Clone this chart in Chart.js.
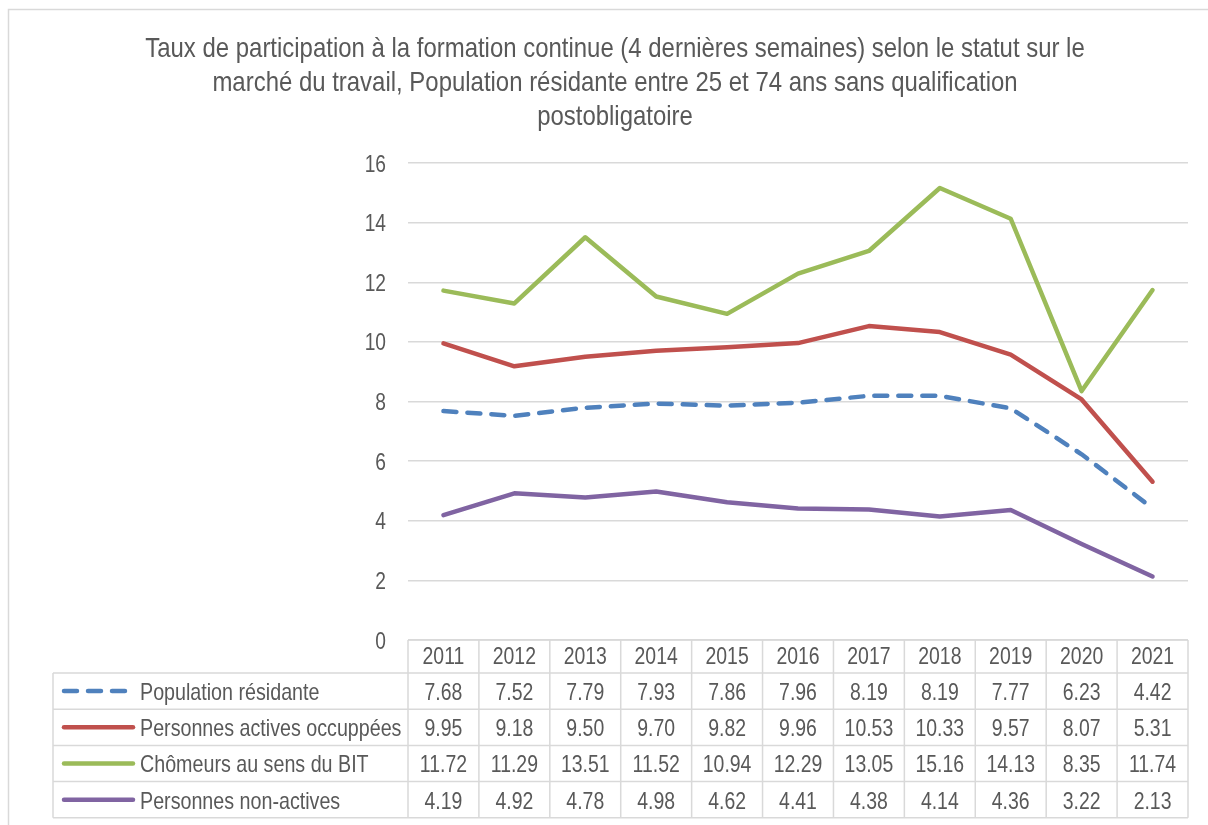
<!DOCTYPE html>
<html><head><meta charset="utf-8">
<script src="https://cdn.jsdelivr.net/npm/chart.js@4.4.1/dist/chart.umd.min.js"></script>
<style>html,body{margin:0;padding:0;background:#fff;}#wrap{width:1208px;height:825px;position:relative;}</style>
</head><body><div id="wrap"><canvas id="c" width="1208" height="825"></canvas></div>
<script>
const titleLines = ["Taux de participation à la formation continue (4 dernières semaines) selon le statut sur le","marché du travail, Population résidante entre 25 et 74 ans sans qualification","postobligatoire"];
const years = ["2011","2012","2013","2014","2015","2016","2017","2018","2019","2020","2021"];
const seriesNames = ["Population résidante","Personnes actives occuppées","Chômeurs au sens du BIT","Personnes non-actives"];
const population = [7.68,7.52,7.79,7.93,7.86,7.96,8.19,8.19,7.77,6.23,4.42];
const actives = [9.95,9.18,9.50,9.70,9.82,9.96,10.53,10.33,9.57,8.07,5.31];
const chomeurs = [11.72,11.29,13.51,11.52,10.94,12.29,13.05,15.16,14.13,8.35,11.74];
const nonActives = [4.19,4.92,4.78,4.98,4.62,4.41,4.38,4.14,4.36,3.22,2.13];
const yTicks = [0,2,4,6,8,10,12,14,16];

const colors = ["#4f81bd","#c0504d","#9bbb59","#8064a2"];
const seriesValues = [population, actives, chomeurs, nonActives];
const FONT = "'Liberation Sans', Arial, sans-serif";
const TXT = "#595959";
const GRID = "#d9d9d9";

// condensed text drawing (horizontal scale)
function txt(ctx, s, x, y, size, sx, align) {
  ctx.save();
  ctx.font = size + "px " + FONT;
  ctx.textAlign = align; ctx.textBaseline = "alphabetic";
  ctx.translate(x, y); ctx.scale(sx, 1);
  ctx.fillText(s, 0, 0);
  ctx.restore();
}

const tablePlugin = {
  id: 'tablePlugin',
  afterDraw(chart) {
    const ctx = chart.ctx;
    const x = chart.scales.x, y = chart.scales.y, area = chart.chartArea;
    ctx.save();
    // outer border
    ctx.strokeStyle = GRID; ctx.lineWidth = 1.5;
    ctx.beginPath(); ctx.moveTo(8.5, 830); ctx.lineTo(8.5, 9.5); ctx.lineTo(1215, 9.5); ctx.stroke();
    ctx.fillStyle = TXT;
    // title
    titleLines.forEach((t, i) => txt(ctx, t, 615, 57 + i * 34, 28, 0.855, "center"));
    // y tick labels
    yTicks.forEach(v => txt(ctx, String(v), 386, y.getPixelForValue(v) + 8.5, 24, 0.8, "right"));
    // table
    const colW = (area.right - area.left) / years.length;
    const headTop = area.bottom, headBot = area.bottom + 33;
    const rowH = 36.2;
    const legLeft = 53;
    const tblBottom = headBot + rowH * seriesNames.length;
    ctx.strokeStyle = GRID; ctx.lineWidth = 1.5;
    ctx.beginPath();
    ctx.moveTo(area.left, headTop); ctx.lineTo(area.right, headTop);
    for (let r = 0; r <= seriesNames.length; r++) {
      const yy = headBot + r * rowH;
      ctx.moveTo(legLeft, yy); ctx.lineTo(area.right, yy);
    }
    for (let c = 0; c <= years.length; c++) {
      const xx = area.left + c * colW;
      ctx.moveTo(xx, headTop); ctx.lineTo(xx, tblBottom);
    }
    ctx.moveTo(legLeft, headBot); ctx.lineTo(legLeft, tblBottom);
    ctx.stroke();
    ctx.fillStyle = TXT;
    years.forEach((yr, i) => txt(ctx, yr, x.getPixelForValue(i), headBot - 9, 24, 0.81, "center"));
    seriesValues.forEach((vals, r) => {
      const by = headBot + r * rowH + 27;
      vals.forEach((v, i) => txt(ctx, v.toFixed(2), x.getPixelForValue(i), by, 24, 0.81, "center"));
    });
    seriesNames.forEach((n, r) => {
      const cy = headBot + r * rowH + rowH / 2;
      ctx.strokeStyle = colors[r]; ctx.lineWidth = 4.5; ctx.lineCap = "round";
      ctx.setLineDash(r === 0 ? [13, 11] : []);
      ctx.beginPath(); ctx.moveTo(64, cy); ctx.lineTo(r === 0 ? 136 : 133, cy); ctx.stroke();
      ctx.setLineDash([]);
      ctx.fillStyle = TXT;
      txt(ctx, n, 140, headBot + r * rowH + 27, 24, 0.82, "left");
    });
    ctx.restore();
  }
};

new Chart(document.getElementById('c'), {
  type: 'line',
  data: {
    labels: years,
    datasets: seriesNames.map((n, i) => ({
      label: n,
      data: seriesValues[i],
      borderColor: colors[i],
      backgroundColor: colors[i],
      borderWidth: 4.5,
      borderDash: i === 0 ? [13, 11] : [],
      borderCapStyle: 'round',
      borderJoinStyle: 'round',
      pointRadius: 0,
      pointHoverRadius: 0,
      tension: 0,
      fill: false
    }))
  },
  options: {
    responsive: false,
    animation: false,
    devicePixelRatio: 1,
    layout: { padding: { left: 8, right: 20, top: 163, bottom: 185 } },
    plugins: { legend: { display: false }, title: { display: false }, tooltip: { enabled: false } },
    scales: {
      x: { display: false, offset: true, type: 'category' },
      y: {
        min: 0, max: 16,
        afterFit(s) { s.width = 400; },
        afterBuildTicks(s) { s.ticks = yTicks.map(v => ({ value: v })); },
        border: { display: false },
        grid: { color: GRID, lineWidth: 1.5, drawTicks: false },
        ticks: { display: false }
      }
    }
  },
  plugins: [tablePlugin]
});
</script></body></html>
